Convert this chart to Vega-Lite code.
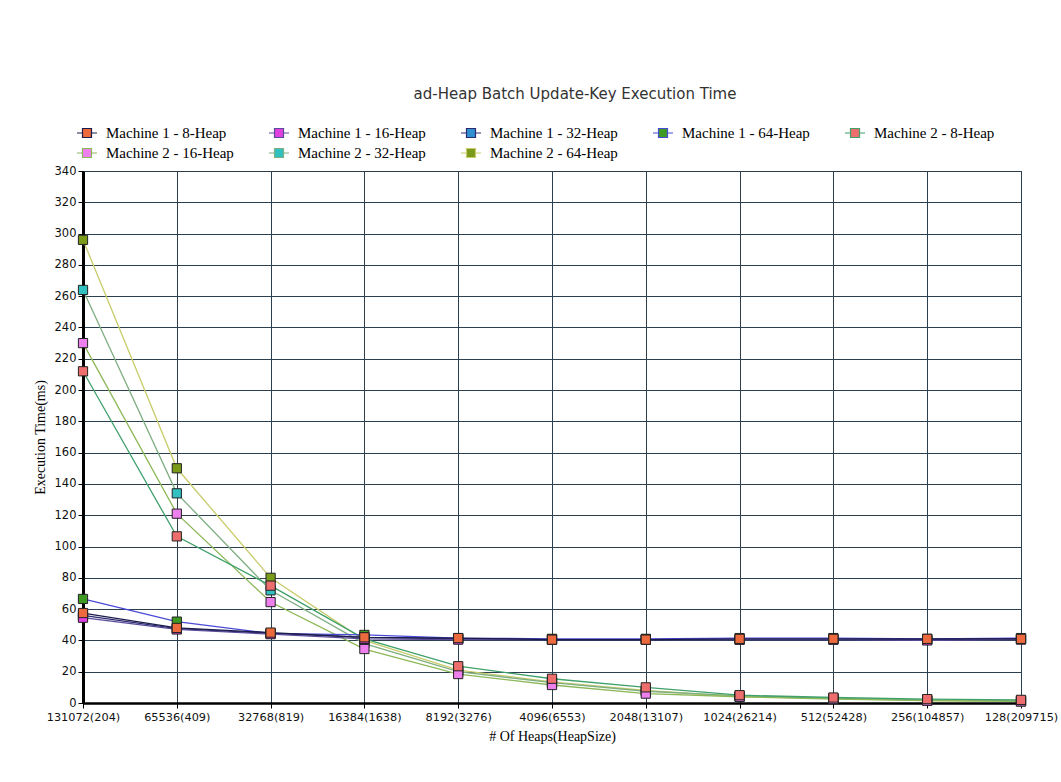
{
  "$schema": "https://vega.github.io/schema/vega-lite/v6.json",
  "width": 938,
  "height": 532,
  "autosize": {"type": "none"},
  "padding": {"left": 83, "top": 171, "right": 40, "bottom": 79},
  "background": "white",
  "title": {
    "text": "ad-Heap Batch Update-Key Execution Time",
    "anchor": "middle",
    "font": "DejaVu Sans",
    "fontSize": 15,
    "fontWeight": "normal",
    "color": "#333333",
    "dx": 23,
    "offset": 20
  },
  "config": {
    "view": {"stroke": "#2b3f4f", "strokeWidth": 1},
    "legend": {
      "orient": "none",
      "legendX": -7,
      "legendY": -49,
      "direction": "horizontal",
      "columns": 5,
      "gridAlign": "none",
      "columnPadding": 32,
      "rowPadding": 1,
      "labelFont": "Liberation Serif",
      "labelFontSize": 15,
      "labelColor": "#000000",
      "symbolType": "M-1,0H-0.45M0.45,0H1M-0.45,-0.45H0.45V0.45H-0.45Z",
      "symbolSize": 400,
      "symbolStrokeWidth": 1.2,
      "labelOffset": 8,
      "title": null
    }
  },
  "data": {
    "values": [
      {"series": "Machine 2 - 64-Heap", "heap": "131072(204)", "time": 296},
      {"series": "Machine 2 - 64-Heap", "heap": "65536(409)", "time": 150},
      {"series": "Machine 2 - 64-Heap", "heap": "32768(819)", "time": 80},
      {"series": "Machine 2 - 64-Heap", "heap": "16384(1638)", "time": 40},
      {"series": "Machine 2 - 64-Heap", "heap": "8192(3276)", "time": 21},
      {"series": "Machine 2 - 64-Heap", "heap": "4096(6553)", "time": 13.5},
      {"series": "Machine 2 - 64-Heap", "heap": "2048(13107)", "time": 8},
      {"series": "Machine 2 - 64-Heap", "heap": "1024(26214)", "time": 4},
      {"series": "Machine 2 - 64-Heap", "heap": "512(52428)", "time": 3},
      {"series": "Machine 2 - 64-Heap", "heap": "256(104857)", "time": 1.5},
      {"series": "Machine 2 - 64-Heap", "heap": "128(209715)", "time": 1},

      {"series": "Machine 2 - 32-Heap", "heap": "131072(204)", "time": 264},
      {"series": "Machine 2 - 32-Heap", "heap": "65536(409)", "time": 134},
      {"series": "Machine 2 - 32-Heap", "heap": "32768(819)", "time": 72},
      {"series": "Machine 2 - 32-Heap", "heap": "16384(1638)", "time": 38},
      {"series": "Machine 2 - 32-Heap", "heap": "8192(3276)", "time": 20},
      {"series": "Machine 2 - 32-Heap", "heap": "4096(6553)", "time": 13},
      {"series": "Machine 2 - 32-Heap", "heap": "2048(13107)", "time": 7.5},
      {"series": "Machine 2 - 32-Heap", "heap": "1024(26214)", "time": 4.5},
      {"series": "Machine 2 - 32-Heap", "heap": "512(52428)", "time": 3},
      {"series": "Machine 2 - 32-Heap", "heap": "256(104857)", "time": 2},
      {"series": "Machine 2 - 32-Heap", "heap": "128(209715)", "time": 1.5},

      {"series": "Machine 2 - 16-Heap", "heap": "131072(204)", "time": 230},
      {"series": "Machine 2 - 16-Heap", "heap": "65536(409)", "time": 121},
      {"series": "Machine 2 - 16-Heap", "heap": "32768(819)", "time": 64.5},
      {"series": "Machine 2 - 16-Heap", "heap": "16384(1638)", "time": 34.5},
      {"series": "Machine 2 - 16-Heap", "heap": "8192(3276)", "time": 18.5},
      {"series": "Machine 2 - 16-Heap", "heap": "4096(6553)", "time": 11.5},
      {"series": "Machine 2 - 16-Heap", "heap": "2048(13107)", "time": 6},
      {"series": "Machine 2 - 16-Heap", "heap": "1024(26214)", "time": 4},
      {"series": "Machine 2 - 16-Heap", "heap": "512(52428)", "time": 2.5},
      {"series": "Machine 2 - 16-Heap", "heap": "256(104857)", "time": 1.5},
      {"series": "Machine 2 - 16-Heap", "heap": "128(209715)", "time": 1},

      {"series": "Machine 2 - 8-Heap", "heap": "131072(204)", "time": 212},
      {"series": "Machine 2 - 8-Heap", "heap": "65536(409)", "time": 106.5},
      {"series": "Machine 2 - 8-Heap", "heap": "32768(819)", "time": 75},
      {"series": "Machine 2 - 8-Heap", "heap": "16384(1638)", "time": 41},
      {"series": "Machine 2 - 8-Heap", "heap": "8192(3276)", "time": 23.5},
      {"series": "Machine 2 - 8-Heap", "heap": "4096(6553)", "time": 15.5},
      {"series": "Machine 2 - 8-Heap", "heap": "2048(13107)", "time": 10},
      {"series": "Machine 2 - 8-Heap", "heap": "1024(26214)", "time": 5},
      {"series": "Machine 2 - 8-Heap", "heap": "512(52428)", "time": 3.5},
      {"series": "Machine 2 - 8-Heap", "heap": "256(104857)", "time": 2.5},
      {"series": "Machine 2 - 8-Heap", "heap": "128(209715)", "time": 2},

      {"series": "Machine 1 - 64-Heap", "heap": "131072(204)", "time": 66.5},
      {"series": "Machine 1 - 64-Heap", "heap": "65536(409)", "time": 52},
      {"series": "Machine 1 - 64-Heap", "heap": "32768(819)", "time": 44.5},
      {"series": "Machine 1 - 64-Heap", "heap": "16384(1638)", "time": 43.5},
      {"series": "Machine 1 - 64-Heap", "heap": "8192(3276)", "time": 41.5},
      {"series": "Machine 1 - 64-Heap", "heap": "4096(6553)", "time": 41},
      {"series": "Machine 1 - 64-Heap", "heap": "2048(13107)", "time": 41},
      {"series": "Machine 1 - 64-Heap", "heap": "1024(26214)", "time": 41.5},
      {"series": "Machine 1 - 64-Heap", "heap": "512(52428)", "time": 41.5},
      {"series": "Machine 1 - 64-Heap", "heap": "256(104857)", "time": 41},
      {"series": "Machine 1 - 64-Heap", "heap": "128(209715)", "time": 41.5},

      {"series": "Machine 1 - 32-Heap", "heap": "131072(204)", "time": 56},
      {"series": "Machine 1 - 32-Heap", "heap": "65536(409)", "time": 47.5},
      {"series": "Machine 1 - 32-Heap", "heap": "32768(819)", "time": 44.5},
      {"series": "Machine 1 - 32-Heap", "heap": "16384(1638)", "time": 42},
      {"series": "Machine 1 - 32-Heap", "heap": "8192(3276)", "time": 41},
      {"series": "Machine 1 - 32-Heap", "heap": "4096(6553)", "time": 40.5},
      {"series": "Machine 1 - 32-Heap", "heap": "2048(13107)", "time": 40.5},
      {"series": "Machine 1 - 32-Heap", "heap": "1024(26214)", "time": 40.5},
      {"series": "Machine 1 - 32-Heap", "heap": "512(52428)", "time": 40.5},
      {"series": "Machine 1 - 32-Heap", "heap": "256(104857)", "time": 40.5},
      {"series": "Machine 1 - 32-Heap", "heap": "128(209715)", "time": 41},

      {"series": "Machine 1 - 16-Heap", "heap": "131072(204)", "time": 54.5},
      {"series": "Machine 1 - 16-Heap", "heap": "65536(409)", "time": 47},
      {"series": "Machine 1 - 16-Heap", "heap": "32768(819)", "time": 44},
      {"series": "Machine 1 - 16-Heap", "heap": "16384(1638)", "time": 41},
      {"series": "Machine 1 - 16-Heap", "heap": "8192(3276)", "time": 40.5},
      {"series": "Machine 1 - 16-Heap", "heap": "4096(6553)", "time": 40.5},
      {"series": "Machine 1 - 16-Heap", "heap": "2048(13107)", "time": 40.5},
      {"series": "Machine 1 - 16-Heap", "heap": "1024(26214)", "time": 40.5},
      {"series": "Machine 1 - 16-Heap", "heap": "512(52428)", "time": 40.5},
      {"series": "Machine 1 - 16-Heap", "heap": "256(104857)", "time": 40},
      {"series": "Machine 1 - 16-Heap", "heap": "128(209715)", "time": 40.5},

      {"series": "Machine 1 - 8-Heap", "heap": "131072(204)", "time": 57.5},
      {"series": "Machine 1 - 8-Heap", "heap": "65536(409)", "time": 48},
      {"series": "Machine 1 - 8-Heap", "heap": "32768(819)", "time": 45},
      {"series": "Machine 1 - 8-Heap", "heap": "16384(1638)", "time": 42},
      {"series": "Machine 1 - 8-Heap", "heap": "8192(3276)", "time": 41.5},
      {"series": "Machine 1 - 8-Heap", "heap": "4096(6553)", "time": 40.5},
      {"series": "Machine 1 - 8-Heap", "heap": "2048(13107)", "time": 40.5},
      {"series": "Machine 1 - 8-Heap", "heap": "1024(26214)", "time": 41},
      {"series": "Machine 1 - 8-Heap", "heap": "512(52428)", "time": 41},
      {"series": "Machine 1 - 8-Heap", "heap": "256(104857)", "time": 41},
      {"series": "Machine 1 - 8-Heap", "heap": "128(209715)", "time": 41}
    ]
  },
  "encoding": {
    "x": {
      "field": "heap",
      "type": "ordinal",
      "sort": null,
      "scale": {"type": "point", "padding": 0},
      "axis": {
        "title": "# Of Heaps(HeapSize)",
        "titleFont": "Liberation Serif",
        "titleFontSize": 14,
        "titleFontWeight": "normal",
        "titleColor": "#000000",
        "titlePadding": 7,
        "labelAngle": 0,
        "labelFont": "DejaVu Sans",
        "labelFontSize": 11.3,
        "labelColor": "#111111",
        "labelPadding": 3,
        "labelOverlap": false,
        "tickSize": 5,
        "tickColor": "#000000",
        "domainColor": "#000000",
        "domainWidth": 2.5,
        "grid": true,
        "gridColor": "#2b3f4f",
        "gridOpacity": 1,
        "gridWidth": 1
      }
    },
    "y": {
      "field": "time",
      "type": "quantitative",
      "scale": {"domain": [0, 340], "nice": false},
      "axis": {
        "title": "Execution Time(ms)",
        "titleFont": "Liberation Serif",
        "titleFontSize": 14,
        "titleFontWeight": "normal",
        "titleColor": "#000000",
        "titlePadding": 7,
        "values": [0, 20, 40, 60, 80, 100, 120, 140, 160, 180, 200, 220, 240, 260, 280, 300, 320, 340],
        "labelFont": "DejaVu Sans",
        "labelFontSize": 11.5,
        "labelColor": "#111111",
        "labelPadding": 2,
        "tickSize": 5,
        "tickColor": "#000000",
        "domainColor": "#000000",
        "domainWidth": 3,
        "grid": true,
        "gridColor": "#2b3f4f",
        "gridOpacity": 1,
        "gridWidth": 1
      }
    }
  },
  "layer": [
    {
      "mark": {"type": "line", "strokeWidth": 1.3},
      "encoding": {
        "stroke": {
          "field": "series",
          "type": "nominal",
          "scale": {
            "domain": ["Machine 1 - 8-Heap", "Machine 1 - 16-Heap", "Machine 1 - 32-Heap", "Machine 1 - 64-Heap", "Machine 2 - 8-Heap", "Machine 2 - 16-Heap", "Machine 2 - 32-Heap", "Machine 2 - 64-Heap"],
            "range": ["#1c1c4a", "#5a4a9a", "#2a2a70", "#4a4ad8", "#3fa06a", "#8cb858", "#7fae80", "#c8cc6a"]
          },
          "legend": {"title": null}
        }
      }
    },
    {
      "mark": {"type": "point", "shape": "square", "filled": true, "size": 85, "stroke": "#222222", "strokeWidth": 1, "opacity": 1},
      "encoding": {
        "fill": {
          "field": "series",
          "type": "nominal",
          "scale": {
            "domain": ["Machine 1 - 8-Heap", "Machine 1 - 16-Heap", "Machine 1 - 32-Heap", "Machine 1 - 64-Heap", "Machine 2 - 8-Heap", "Machine 2 - 16-Heap", "Machine 2 - 32-Heap", "Machine 2 - 64-Heap"],
            "range": ["#ec6a3e", "#e040e0", "#3090d0", "#3e9a22", "#ee6e6e", "#ee80ee", "#30c0c0", "#7a9a1a"]
          },
          "legend": {"title": null}
        }
      }
    }
  ]
}
